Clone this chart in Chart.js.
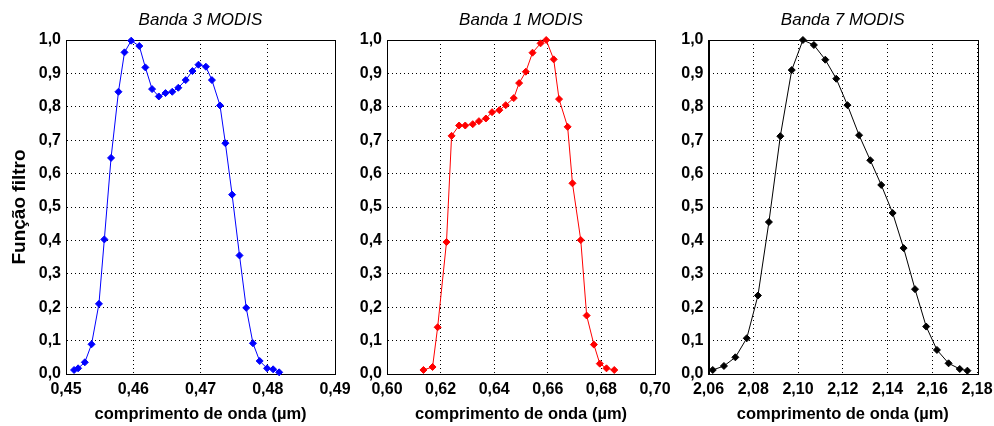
<!DOCTYPE html>
<html>
<head>
<meta charset="utf-8">
<script src="https://cdn.jsdelivr.net/npm/chart.js@4/dist/chart.umd.min.js"></script>
<style>
  body { margin: 0; background: #fff; }
  .panel { position: absolute; top: 0; }
</style>
</head>
<body>
<div class="panel" style="left:0px"><canvas id="chart3" width="360" height="426"></canvas></div>
<div class="panel" style="left:350px"><canvas id="chart1" width="330" height="426"></canvas></div>
<div class="panel" style="left:670px"><canvas id="chart7" width="324" height="426"></canvas></div>
<script>
// Banda 3
const band3X = [0.4512, 0.4518, 0.4528, 0.4538, 0.4549, 0.4557, 0.4567, 0.4578, 0.4587, 0.4597,
    0.4609, 0.4618, 0.4628, 0.4638, 0.4648, 0.4658, 0.4667, 0.4678, 0.4688, 0.4697,
    0.4708, 0.4717, 0.4729, 0.4737, 0.4747, 0.4758, 0.4768, 0.4778, 0.4788, 0.4799,
    0.4808, 0.4817];
const band3Y = [0.012, 0.017, 0.035, 0.089, 0.21, 0.403, 0.647, 0.845, 0.963, 0.998,
    0.982, 0.918, 0.853, 0.831, 0.841, 0.845, 0.857, 0.880, 0.907, 0.926,
    0.920, 0.880, 0.804, 0.691, 0.537, 0.355, 0.198, 0.092, 0.039, 0.017,
    0.014, 0.005];
const band3Ticks = [0.45, 0.46, 0.47, 0.48, 0.49];

// Banda 1
const band1X = [0.6136, 0.6170, 0.6189, 0.6222, 0.6241, 0.6269, 0.6292, 0.6320, 0.6343, 0.6369,
    0.6392, 0.6419, 0.6443, 0.6473, 0.6493, 0.6518, 0.6543, 0.6573, 0.6594, 0.6622,
    0.6642, 0.6674, 0.6692, 0.6723, 0.6745, 0.6772, 0.6794, 0.6819, 0.6848];
const band1Y = [0.012, 0.021, 0.140, 0.395, 0.713, 0.744, 0.744, 0.748, 0.757, 0.765,
    0.784, 0.790, 0.805, 0.826, 0.871, 0.905, 0.962, 0.990, 1.0, 0.942,
    0.823, 0.740, 0.571, 0.401, 0.175, 0.088, 0.031, 0.017, 0.012];
const band1Ticks = [0.60, 0.62, 0.64, 0.66, 0.68, 0.70];

// Banda 7
const band7X = [2.0619, 2.0669, 2.0720, 2.0771, 2.0821, 2.0870, 2.0921, 2.0972, 2.1022, 2.1071,
    2.1122, 2.1171, 2.1221, 2.1273, 2.1323, 2.1372, 2.1423, 2.1472, 2.1523, 2.1573,
    2.1621, 2.1673, 2.1723, 2.1757];
const band7Y = [0.012, 0.024, 0.050, 0.107, 0.235, 0.455, 0.712, 0.910, 1.0, 0.985,
    0.941, 0.884, 0.805, 0.715, 0.640, 0.566, 0.482, 0.377, 0.254, 0.142,
    0.072, 0.032, 0.015, 0.010];
const band7Ticks = [2.06, 2.08, 2.10, 2.12, 2.14, 2.16, 2.18];

const yTicks = [0, 0.1, 0.2, 0.3, 0.4, 0.5, 0.6, 0.7, 0.8, 0.9, 1.0];

const tickFont = { family: "Liberation Sans", size: 16, weight: "bold" };

// frame on top and right of the plot area
const framePlugin = {
    id: "frame",
    beforeDatasetsDraw(chart) {
        const a = chart.chartArea;
        const ctx = chart.ctx;
        ctx.save();
        ctx.strokeStyle = "#000";
        ctx.lineWidth = 1;
        ctx.strokeRect(Math.round(a.left) + 0.5, Math.round(a.top) + 0.5,
            Math.round(a.right - a.left), Math.round(a.bottom - a.top));
        ctx.restore();
    }
};

function makeChart(id, xs, ys, color, title, xTicks, yWidth, rightPad, showYTitle) {
    const points = xs.map((x, i) => ({ x: x, y: ys[i] }));
    return new Chart(document.getElementById(id), {
        type: "line",
        data: {
            datasets: [{
                data: points,
                borderColor: color,
                backgroundColor: color,
                borderWidth: 1,
                pointStyle: "rectRot",
                pointRadius: 3.5,
                pointBorderWidth: 1,
                tension: 0,
                clip: false
            }]
        },
        plugins: [framePlugin],
        options: {
            responsive: false,
            animation: false,
            layout: { padding: { left: 0, right: rightPad, top: 0, bottom: 0 } },
            plugins: {
                legend: { display: false },
                tooltip: { enabled: false }
            },
            scales: {
                // top axis only carries the panel title, centred over the plot
                top: {
                    type: "linear",
                    position: "top",
                    min: xTicks[0],
                    max: xTicks[xTicks.length - 1],
                    afterFit: (s) => { s.height = 40; s.paddingLeft = 0; s.paddingRight = 0; },
                    grid: { display: false },
                    border: { display: false },
                    ticks: { display: false },
                    title: {
                        display: true,
                        text: title,
                        color: "#000",
                        font: { family: "Liberation Sans", size: 17, style: "italic", weight: "normal" },
                        padding: { top: 9.8, bottom: 0 }
                    }
                },
                x: {
                    type: "linear",
                    position: "bottom",
                    min: xTicks[0],
                    max: xTicks[xTicks.length - 1],
                    afterBuildTicks: (s) => { s.ticks = xTicks.map(v => ({ value: v })); },
                    afterFit: (s) => { s.height = 52; s.paddingLeft = 0; s.paddingRight = 0; },
                    grid: { color: "#000", lineWidth: 1, drawTicks: false },
                    border: { display: true, color: "#000", width: 1, dash: [1, 3] },
                    ticks: {
                        color: "#000",
                        font: tickFont,
                        padding: 6,
                        maxRotation: 0,
                        autoSkip: false,
                        callback: (v) => v.toFixed(2).replace(".", ",")
                    },
                    title: {
                        display: true,
                        text: "comprimento de onda (µm)",
                        color: "#000",
                        font: { family: "Liberation Sans", size: 16.5, weight: "bold" },
                        padding: { top: 0, bottom: 2 }
                    }
                },
                y: {
                    type: "linear",
                    min: 0,
                    max: 1,
                    afterBuildTicks: (s) => { s.ticks = yTicks.map(v => ({ value: v })); },
                    afterFit: (s) => { s.width = yWidth; s.paddingTop = 0; s.paddingBottom = 0; },
                    grid: { color: "#000", lineWidth: 1, drawTicks: false },
                    border: { display: true, color: "#000", width: 1, dash: [1, 3] },
                    ticks: {
                        color: "#000",
                        font: tickFont,
                        padding: 5,
                        autoSkip: false,
                        callback: (v) => v.toFixed(1).replace(".", ",")
                    },
                    title: {
                        display: showYTitle,
                        text: "Função filtro",
                        color: "#000",
                        font: { family: "Liberation Sans", size: 19, weight: "bold" },
                        padding: { top: 8.6, bottom: 0 }
                    }
                }
            }
        }
    });
}

const chart3 = makeChart("chart3", band3X, band3Y, "#0000ff", "Banda 3 MODIS", band3Ticks, 66, 25, true);
const chart1 = makeChart("chart1", band1X, band1Y, "#ff0000", "Banda 1 MODIS", band1Ticks, 37, 25, false);
const chart7 = makeChart("chart7", band7X, band7Y, "#000000", "Banda 7 MODIS", band7Ticks, 38.5, 17, false);
</script>
</body>
</html>
